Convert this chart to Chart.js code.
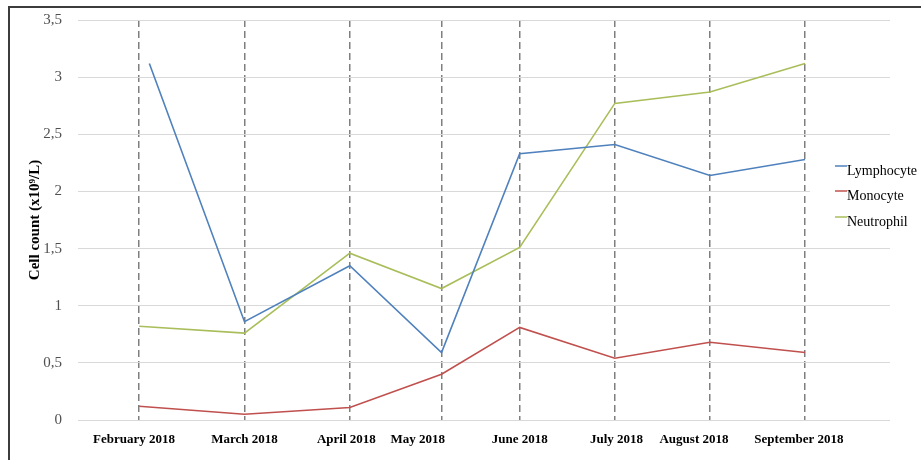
<!DOCTYPE html>
<html>
<head>
<meta charset="utf-8">
<script src="https://cdn.jsdelivr.net/npm/chart.js@4.4.1/dist/chart.umd.min.js"></script>
<style>
  html, body { margin: 0; padding: 0; background: #fff; }
  #wrap { position: relative; width: 921px; height: 460px; }
  #frame { position: absolute; left: 8px; top: 6px; right: 0; bottom: 0;
           border-top: 2px solid #3c3c3c; border-left: 2px solid #3c3c3c; }
  canvas { position: absolute; left: 0; top: 0; }
</style>
</head>
<body>
<div id="wrap">
  <div id="frame"></div>
  <canvas id="cellChart" width="921" height="460"></canvas>
</div>
<script>
// sampling days (days on a common time axis)
const sampleDays = [18, 49, 80, 107, 130, 158, 186, 214];
const lymphocyteDays = [21, 49, 80, 107, 130, 158, 186, 214];
const labelDays = [16.5, 49, 79, 100, 130, 158.5, 181.3, 212.2];
const monthLabels = ['February 2018', 'March 2018', 'April 2018', 'May 2018',
  'June 2018', 'July 2018', 'August 2018', 'September 2018'];

const lymphocyte = [3.12, 0.86, 1.35, 0.59, 2.33, 2.41, 2.14, 2.28];
const monocyte = [0.12, 0.05, 0.11, 0.40, 0.81, 0.54, 0.68, 0.59];
const neutrophil = [0.82, 0.76, 1.46, 1.15, 1.51, 2.77, 2.87, 3.12];

const serif = 'Liberation Serif, Times New Roman, serif';

function toPoints(days, values) {
  return values.map((v, i) => ({ x: days[i], y: v }));
}

// legend drawn on the right, on top of the plot area like in the original
const sideLegend = {
  id: 'sideLegend',
  afterDraw(chart) {
    const ctx = chart.ctx;
    const rows = [171, 196, 222];
    ctx.save();
    ctx.fillStyle = '#fff';
    ctx.fillRect(810, 158, 111, 78);
    ctx.font = '14px ' + serif;
    ctx.textBaseline = 'middle';
    chart.data.datasets.forEach((ds, i) => {
      const y = rows[i];
      ctx.strokeStyle = ds.borderColor;
      ctx.lineWidth = 1.5;
      ctx.beginPath();
      ctx.moveTo(835, y - 5);
      ctx.lineTo(847, y - 5);
      ctx.stroke();
      ctx.fillStyle = '#000';
      ctx.fillText(ds.label, 847, y);
    });
    ctx.restore();
  }
};

new Chart(document.getElementById('cellChart'), {
  type: 'line',
  data: {
    datasets: [
      { label: 'Lymphocyte', data: toPoints(lymphocyteDays, lymphocyte), borderColor: '#4F81BD' },
      { label: 'Monocyte', data: toPoints(sampleDays, monocyte), borderColor: '#C0504D' },
      { label: 'Neutrophil', data: toPoints(sampleDays, neutrophil), borderColor: '#A9BE5A' }
    ]
  },
  options: {
    responsive: false,
    animation: false,
    layout: { padding: { left: 0, right: 31, top: 20, bottom: 0 } },
    elements: {
      line: { borderWidth: 1.6, tension: 0 },
      point: { radius: 0 }
    },
    plugins: {
      legend: { display: false },
      tooltip: { enabled: false }
    },
    scales: {
      x: {
        type: 'linear',
        min: 0,
        max: 239,
        afterBuildTicks: (scale) => { scale.ticks = labelDays.map(v => ({ value: v })); },
        afterFit: (scale) => { scale.height = 40; },
        grid: { display: false },
        border: { display: false },
        ticks: {
          autoSkip: false,
          maxRotation: 0,
          padding: 4,
          color: '#000',
          font: { family: serif, size: 13, weight: 'bold' },
          callback: (value, index) => monthLabels[index]
        }
      },
      x2: {
        type: 'linear',
        position: 'bottom',
        weight: -1,
        min: 0,
        max: 239,
        afterBuildTicks: (scale) => { scale.ticks = sampleDays.map(v => ({ value: v })); },
        afterFit: (scale) => { scale.height = 0; },
        grid: { color: '#7f7f7f', lineWidth: 1.5, drawTicks: false },
        border: { display: false, dash: [7, 4] },
        ticks: { display: false }
      },
      y: {
        min: 0,
        max: 3.5,
        afterFit: (scale) => {
          scale.width = 78;
          scale.paddingTop = 0;
          scale.paddingBottom = 0;
        },
        grid: { color: '#d9d9d9', lineWidth: 1, drawTicks: false },
        border: { display: false },
        ticks: {
          stepSize: 0.5,
          padding: 16,
          color: '#505050',
          font: { family: serif, size: 15 },
          callback: (v) => String(v).replace('.', ',')
        },
        title: {
          display: true,
          text: 'Cell count (x10⁹/L)',
          color: '#000',
          font: { family: serif, size: 15, weight: 'bold' },
          padding: { top: 26, bottom: 0 }
        }
      }
    }
  },
  plugins: [sideLegend]
});
</script>
</body>
</html>
